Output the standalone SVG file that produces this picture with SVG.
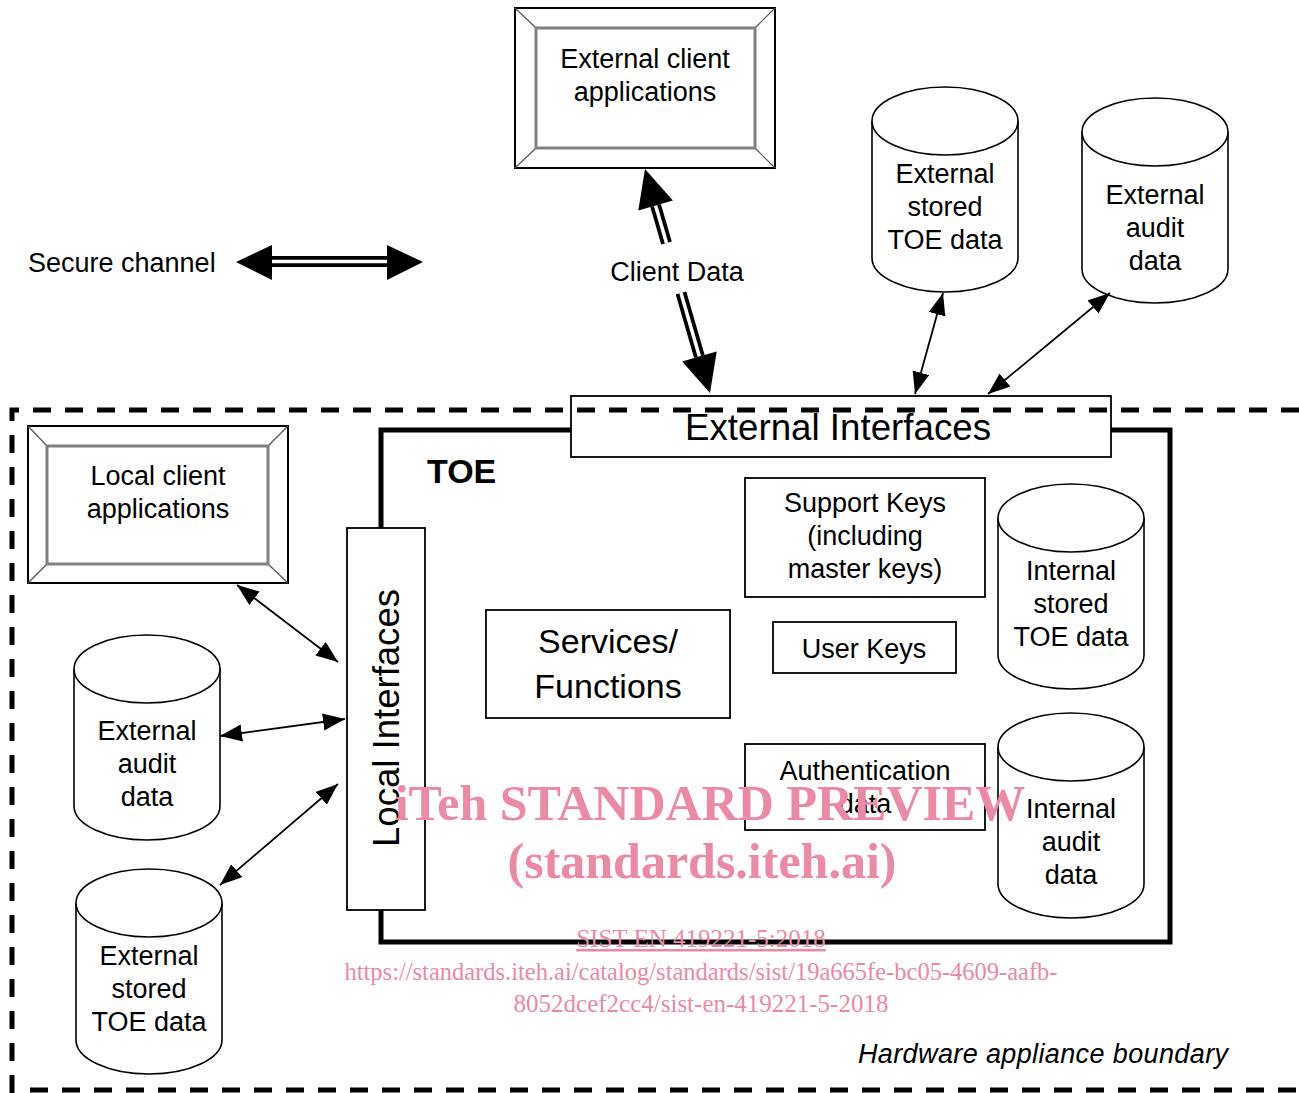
<svg xmlns="http://www.w3.org/2000/svg" xmlns:xlink="http://www.w3.org/1999/xlink" width="1299" height="1093" viewBox="0 0 1299 1093">
<style>
text{font-family:"Liberation Sans",Arial,sans-serif;fill:#000}
.t{font-size:27px;text-anchor:middle}
.big{font-size:36px;text-anchor:middle}
.box{fill:#fff;stroke:#000;stroke-width:1.8}
.outer{fill:#fff;stroke:#000;stroke-width:2}
.inner{fill:#fff;stroke:#808080;stroke-width:3}
.bev{stroke:#555;stroke-width:1.2}
.cyl{fill:#fff;stroke:#000;stroke-width:1.6}
.conn{stroke:#000;stroke-width:1.8;fill:none;marker-start:url(#ah);marker-end:url(#ah)}
.dash{fill:none;stroke:#000;stroke-width:5;stroke-dasharray:18 14}
.wm{font-family:"Liberation Serif","Times New Roman",serif;fill:#ec89a5;text-anchor:middle}
</style>
<defs>
<marker id="ah" markerUnits="userSpaceOnUse" markerWidth="24" markerHeight="18" refX="22" refY="8.5" orient="auto-start-reverse">
<path d="M0,0 L22,8.5 L0,17 Z" fill="#000"/>
</marker>
<g id="cylshape">
<path class="cyl" d="M0,34 A73,34 0 0 1 146,34 L146,171 A73,34 0 0 1 0,171 Z"/>
<path class="cyl" fill="none" d="M0,34 A73,34 0 0 0 146,34"/>
</g>
</defs>

<!-- TOE boundary -->
<g id="toe">
<rect x="381" y="430" width="789" height="512" fill="none" stroke="#000" stroke-width="5"/>
<text x="427" y="483" style="font-size:34px;font-weight:bold">TOE</text>
</g>

<!-- External client applications -->
<g id="ext-client">
<rect class="outer" x="515" y="8" width="260" height="160"/>
<line class="bev" x1="515" y1="8" x2="536" y2="28"/>
<line class="bev" x1="775" y1="8" x2="755" y2="28"/>
<line class="bev" x1="515" y1="168" x2="536" y2="148"/>
<line class="bev" x1="775" y1="168" x2="755" y2="148"/>
<rect class="inner" x="536" y="28" width="219" height="120"/>
<text class="t" x="645" y="68">External client</text>
<text class="t" x="645" y="101">applications</text>
</g>

<!-- Local client applications -->
<g id="local-client">
<rect class="outer" x="28" y="426" width="260" height="157"/>
<line class="bev" x1="28" y1="426" x2="47" y2="446"/>
<line class="bev" x1="288" y1="426" x2="268" y2="446"/>
<line class="bev" x1="28" y1="583" x2="47" y2="564"/>
<line class="bev" x1="288" y1="583" x2="268" y2="564"/>
<rect class="inner" x="47" y="446" width="221" height="118"/>
<text class="t" x="158" y="485">Local client</text>
<text class="t" x="158" y="518">applications</text>
</g>

<!-- Secure channel legend -->
<g id="secure-channel">
<text x="28" y="272" style="font-size:27px">Secure channel</text>
<line x1="270" y1="261.5" x2="390" y2="261.5" stroke="#000" stroke-width="11"/>
<line x1="270" y1="261.5" x2="390" y2="261.5" stroke="#fff" stroke-width="3.5"/>
<path d="M236,262 L272,245 L272,280 Z" fill="#000"/>
<path d="M423,262 L387,245 L387,280 Z" fill="#000"/>
</g>

<!-- External Interfaces -->
<g id="ext-if">
<rect class="box" x="571" y="396" width="540" height="61"/>
<text class="big" x="838" y="440" textLength="306" lengthAdjust="spacingAndGlyphs">External Interfaces</text>
</g>

<!-- Local Interfaces -->
<g id="local-if">
<rect class="box" x="347" y="528" width="78" height="382"/>
<text class="big" transform="translate(399,718) rotate(-90)" x="0" y="0" textLength="258" lengthAdjust="spacingAndGlyphs">Local Interfaces</text>
</g>

<!-- Inner boxes -->
<g id="support-keys">
<rect class="box" x="745" y="478" width="240" height="119"/>
<text class="t" x="865" y="512">Support Keys</text>
<text class="t" x="865" y="545">(including</text>
<text class="t" x="865" y="578">master keys)</text>
</g>
<g id="user-keys">
<rect class="box" x="773" y="622" width="183" height="51"/>
<text class="t" x="864" y="658">User Keys</text>
</g>
<g id="services">
<rect class="box" x="486" y="610" width="244" height="108"/>
<text x="608" y="653" style="font-size:34px;text-anchor:middle">Services/</text>
<text x="608" y="698" style="font-size:34px;text-anchor:middle">Functions</text>
</g>
<g id="auth-data">
<rect class="box" x="745" y="744" width="240" height="86"/>
<text class="t" x="865" y="780">Authentication</text>
<text class="t" x="865" y="813">data</text>
</g>

<!-- Cylinders -->
<g id="ext-stored-top">
<use xlink:href="#cylshape" href="#cylshape" transform="translate(872,87)"/>
<text class="t" x="945" y="183">External</text>
<text class="t" x="945" y="216">stored</text>
<text class="t" x="945" y="249">TOE data</text>
</g>
<g id="ext-audit-top">
<use xlink:href="#cylshape" href="#cylshape" transform="translate(1082,98)"/>
<text class="t" x="1155" y="204">External</text>
<text class="t" x="1155" y="237">audit</text>
<text class="t" x="1155" y="270">data</text>
</g>
<g id="int-stored">
<use xlink:href="#cylshape" href="#cylshape" transform="translate(998,484)"/>
<text class="t" x="1071" y="580">Internal</text>
<text class="t" x="1071" y="613">stored</text>
<text class="t" x="1071" y="646">TOE data</text>
</g>
<g id="int-audit">
<use xlink:href="#cylshape" href="#cylshape" transform="translate(998,713)"/>
<text class="t" x="1071" y="818">Internal</text>
<text class="t" x="1071" y="851">audit</text>
<text class="t" x="1071" y="884">data</text>
</g>
<g id="ext-audit-left">
<use xlink:href="#cylshape" href="#cylshape" transform="translate(74,635)"/>
<text class="t" x="147" y="740">External</text>
<text class="t" x="147" y="773">audit</text>
<text class="t" x="147" y="806">data</text>
</g>
<g id="ext-stored-left">
<use xlink:href="#cylshape" href="#cylshape" transform="translate(76,869)"/>
<text class="t" x="149" y="965">External</text>
<text class="t" x="149" y="998">stored</text>
<text class="t" x="149" y="1031">TOE data</text>
</g>

<!-- Hardware appliance boundary -->
<g id="hw-boundary">
<path class="dash" d="M1299,410 L12,410 L12,1093"/>
<path class="dash" d="M30,1090 L1299,1090"/>
<text x="858" y="1063" style="font-size:27px;font-style:italic" textLength="370">Hardware appliance boundary</text>
</g>

<!-- Connectors -->
<g id="connectors">
<line class="conn" x1="943" y1="293" x2="915" y2="394"/>
<line class="conn" x1="1110" y1="293" x2="988" y2="394"/>
<line class="conn" x1="237" y1="585" x2="338" y2="662"/>
<line class="conn" x1="220" y1="736" x2="345" y2="719"/>
<line class="conn" x1="220" y1="885" x2="338" y2="784"/>
<!-- Client Data double arrow -->
<line x1="655.6" y1="205.5" x2="666.5" y2="243" stroke="#000" stroke-width="11"/>
<line x1="655.6" y1="205.5" x2="666.5" y2="243" stroke="#fff" stroke-width="3.5"/>
<line x1="681" y1="293" x2="699.4" y2="356.5" stroke="#000" stroke-width="11"/>
<line x1="681" y1="293" x2="699.4" y2="356.5" stroke="#fff" stroke-width="3.5"/>
<path d="M645,169 L672.9,200.5 L638.3,210.5 Z" fill="#000"/>
<path d="M710,393 L716.7,351.5 L682.1,361.5 Z" fill="#000"/>
<text class="t" x="677" y="281">Client Data</text>
</g>

<!-- Watermark -->
<g id="watermark">
<text class="wm" x="710" y="820" style="font-size:50px;font-weight:bold">iTeh STANDARD PREVIEW</text>
<text class="wm" x="702" y="878" style="font-size:50px;font-weight:bold">(standards.iteh.ai)</text>
<text class="wm" x="701" y="947" style="font-size:25px;text-decoration:underline">SIST EN 419221-5:2018</text>
<text class="wm" x="701" y="980" style="font-size:24.5px">https://standards.iteh.ai/catalog/standards/sist/19a665fe-bc05-4609-aafb-</text>
<text class="wm" x="701" y="1012" style="font-size:25px">8052dcef2cc4/sist-en-419221-5-2018</text>
</g>
</svg>
